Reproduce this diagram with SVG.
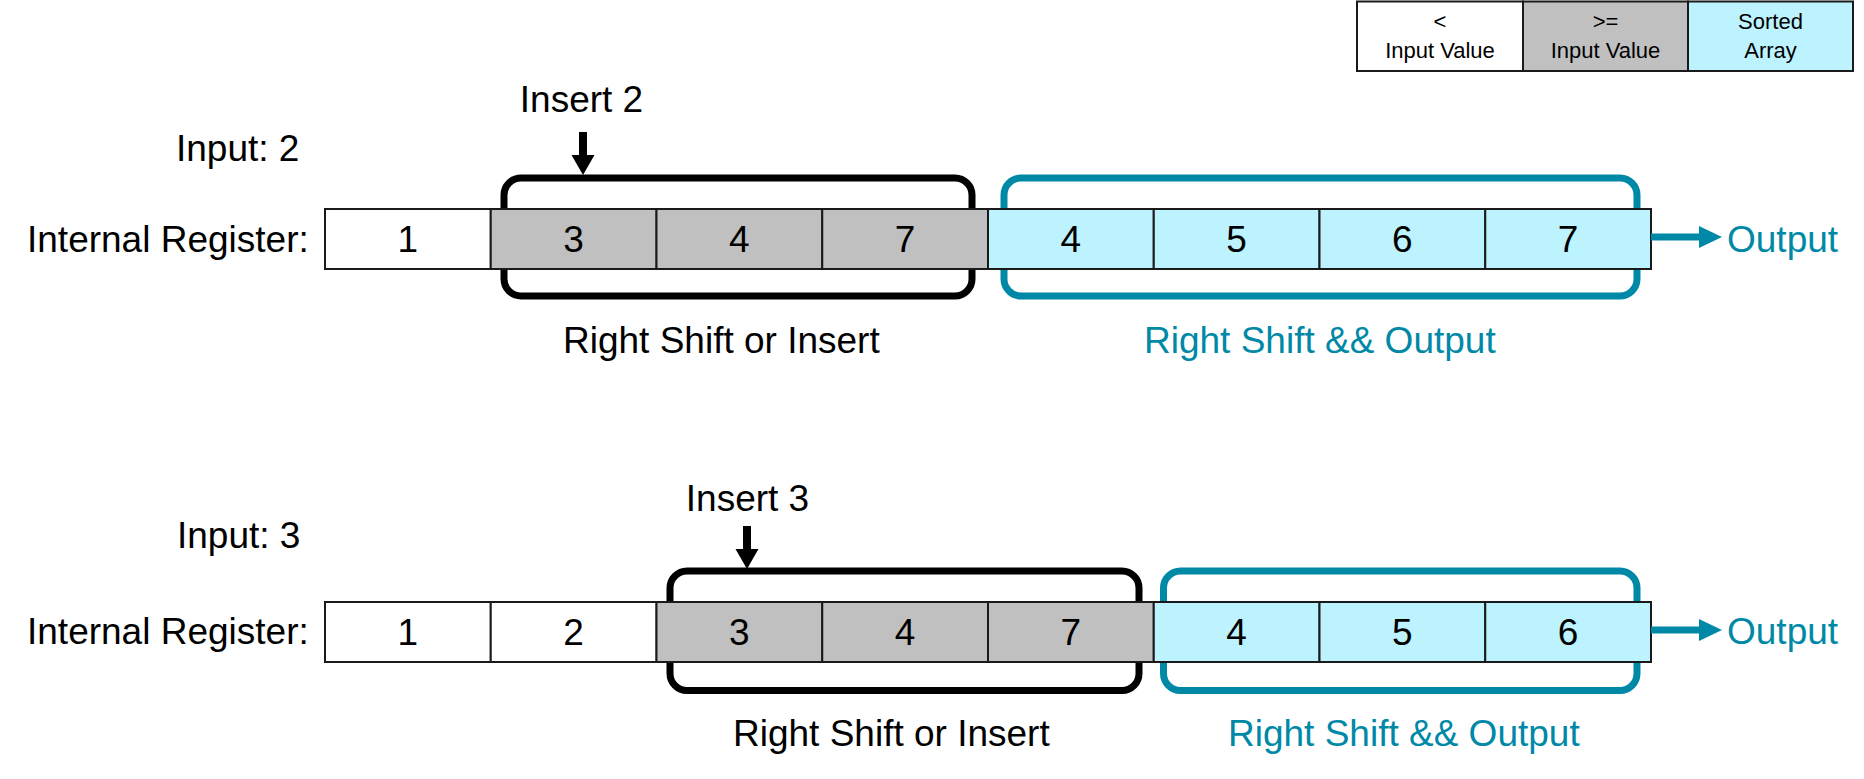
<svg xmlns="http://www.w3.org/2000/svg" width="1864" height="779" viewBox="0 0 1864 779">
<style>
.t{font-family:"Liberation Sans",Arial,sans-serif;font-size:37px;fill:#000}
.c{text-anchor:middle}
.teal{fill:#0089A7}
.lg{font-family:"Liberation Sans",Arial,sans-serif;font-size:22px;fill:#000;text-anchor:middle}
.w{fill:#FFFFFF;stroke:#1a1a1a;stroke-width:2}
.g{fill:#C0C0C0;stroke:#1a1a1a;stroke-width:2}
.s{fill:#BDF3FE;stroke:#1a1a1a;stroke-width:2}
.bb{fill:none;stroke:#000;stroke-width:7}
.tb{fill:none;stroke:#0089A7;stroke-width:7}
.ia{stroke:#000;stroke-width:8;fill:none}
.oa{stroke:#0089A7;stroke-width:7;fill:none}
</style>
<defs>
<marker id="mb" markerUnits="userSpaceOnUse" markerWidth="20" markerHeight="24" viewBox="0 0 20 24" refX="0" refY="12" orient="auto">
<path d="M0,0.5 L20,12 L0,23.5 z" fill="#000"/>
</marker>
<marker id="mt" markerUnits="userSpaceOnUse" markerWidth="23" markerHeight="22" viewBox="0 0 23 22" refX="0" refY="11" orient="auto">
<path d="M0,0 L23,11 L0,22 z" fill="#0089A7"/>
</marker>
</defs>
<rect width="1864" height="779" fill="#fff"/>

<g id="legend">
<rect class="w" x="1357" y="1.5" width="166" height="69.5"/>
<rect class="g" x="1523" y="1.5" width="165" height="69.5"/>
<rect class="s" x="1688" y="1.5" width="165" height="69.5"/>
<text class="lg" x="1440" y="29">&lt;</text>
<text class="lg" x="1440" y="58">Input Value</text>
<text class="lg" x="1605.5" y="29">&gt;=</text>
<text class="lg" x="1605.5" y="58">Input Value</text>
<text class="lg" x="1770.5" y="29">Sorted</text>
<text class="lg" x="1770.5" y="58">Array</text>
</g>

<g id="row1-labels">
<text class="t" x="176" y="161">Input: 2</text>
<text class="t" x="27" y="252">Internal Register:</text>
<text class="t c" x="581.5" y="112">Insert 2</text>
</g>
<g id="row1-shift-box">
<rect class="bb" x="504" y="178" width="468" height="118" rx="17"/>
<text class="t" x="563" y="353">Right Shift or Insert</text>
</g>
<g id="row1-output-box">
<rect class="tb" x="1004" y="178" width="633" height="118" rx="17"/>
<text class="t teal" x="1144" y="353">Right Shift &amp;&amp; Output</text>
<text class="t teal" x="1727" y="252">Output</text>
</g>
<g id="row1-register">
<rect class="w" x="325" y="209" width="165.75" height="60"/>
<rect class="g" x="490.75" y="209" width="165.75" height="60"/>
<rect class="g" x="656.5" y="209" width="165.75" height="60"/>
<rect class="g" x="822.25" y="209" width="165.75" height="60"/>
<rect class="s" x="988" y="209" width="165.75" height="60"/>
<rect class="s" x="1153.75" y="209" width="165.75" height="60"/>
<rect class="s" x="1319.5" y="209" width="165.75" height="60"/>
<rect class="s" x="1485.25" y="209" width="165.75" height="60"/>
<text class="t c" x="407.9" y="252">1</text>
<text class="t c" x="573.6" y="252">3</text>
<text class="t c" x="739.4" y="252">4</text>
<text class="t c" x="905.1" y="252">7</text>
<text class="t c" x="1070.9" y="252">4</text>
<text class="t c" x="1236.6" y="252">5</text>
<text class="t c" x="1402.4" y="252">6</text>
<text class="t c" x="1568.1" y="252">7</text>
</g>

<g id="row2-labels">
<text class="t" x="177" y="548">Input: 3</text>
<text class="t" x="27" y="644">Internal Register:</text>
<text class="t c" x="747.5" y="511">Insert 3</text>
</g>
<g id="row2-shift-box">
<rect class="bb" x="670" y="571" width="469" height="119.5" rx="17"/>
<text class="t" x="733" y="746">Right Shift or Insert</text>
</g>
<g id="row2-output-box">
<rect class="tb" x="1163.5" y="571" width="473.5" height="119.5" rx="17"/>
<text class="t teal" x="1228" y="746">Right Shift &amp;&amp; Output</text>
<text class="t teal" x="1727" y="644">Output</text>
</g>
<g id="row2-register">
<rect class="w" x="325" y="602" width="165.75" height="60"/>
<rect class="w" x="490.75" y="602" width="165.75" height="60"/>
<rect class="g" x="656.5" y="602" width="165.75" height="60"/>
<rect class="g" x="822.25" y="602" width="165.75" height="60"/>
<rect class="g" x="988" y="602" width="165.75" height="60"/>
<rect class="s" x="1153.75" y="602" width="165.75" height="60"/>
<rect class="s" x="1319.5" y="602" width="165.75" height="60"/>
<rect class="s" x="1485.25" y="602" width="165.75" height="60"/>
<text class="t c" x="407.9" y="645">1</text>
<text class="t c" x="573.6" y="645">2</text>
<text class="t c" x="739.4" y="645">3</text>
<text class="t c" x="905.1" y="645">4</text>
<text class="t c" x="1070.9" y="645">7</text>
<text class="t c" x="1236.6" y="645">4</text>
<text class="t c" x="1402.4" y="645">5</text>
<text class="t c" x="1568.1" y="645">6</text>
</g>

<g id="connectors">
<line class="ia" x1="583" y1="132" x2="583" y2="155" marker-end="url(#mb)"/>
<line class="oa" x1="1651" y1="237" x2="1699" y2="237" marker-end="url(#mt)"/>
<line class="ia" x1="747" y1="526" x2="747" y2="549" marker-end="url(#mb)"/>
<line class="oa" x1="1651" y1="630" x2="1699" y2="630" marker-end="url(#mt)"/>
</g>
</svg>
